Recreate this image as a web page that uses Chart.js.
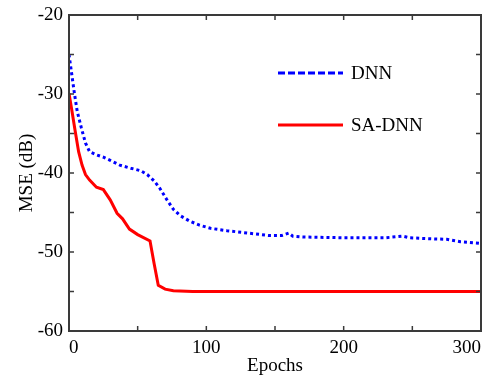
<!DOCTYPE html>
<html lang="en">
<head>
    <meta charset="UTF-8">
    <title>MSE vs Epochs</title>
    <style>
        html, body {
            margin: 0;
            padding: 0;
            background: #ffffff;
        }
        .chart-box {
            width: 492px;
            height: 379px;
        }
    </style>
    <script src="https://cdn.jsdelivr.net/npm/chart.js@4.4.1/dist/chart.umd.min.js"></script>
</head>
<body>
    <div class="chart-box">
        <canvas id="mse-chart" width="492" height="379"></canvas>
    </div>

    <script>
    // values
    const dnnEpochs = [0, 2, 4, 6, 9, 12, 15, 20, 25, 30, 37, 45, 52, 57, 62, 66, 71, 76, 81, 88, 95, 103, 115, 130, 145, 155, 160, 163, 170, 200, 230, 243, 248, 260, 275, 285, 300];
    const dnnMse    = [-25.0, -27.5, -30.0, -32.2, -34.3, -36.2, -37.3, -37.7, -38.0, -38.4, -39.0, -39.4, -39.7, -40.2, -41.0, -41.9, -43.3, -44.6, -45.4, -46.1, -46.6, -47.0, -47.3, -47.6, -47.9, -47.9, -47.6, -48.0, -48.1, -48.2, -48.2, -48.0, -48.2, -48.3, -48.4, -48.7, -48.9];

    const saEpochs = [0, 2, 4.4, 7, 9.5, 12, 15, 20, 25, 30, 35, 39, 44, 50, 59, 62, 65, 70, 76, 90, 150, 300];
    const saMse    = [-29.9, -32.0, -34.6, -37.3, -39.0, -40.2, -40.9, -41.8, -42.1, -43.4, -45.1, -45.8, -47.1, -47.8, -48.6, -51.5, -54.2, -54.7, -54.9, -55.0, -55.0, -55.0];

    const seriesNames = ["DNN", "SA-DNN"];
    const xTicks = [0, 100, 200, 300];
    const yTicks = [-60, -50, -40, -30, -20];

    function toPoints(xs, ys) {
        return xs.map((x, i) => ({x: x, y: ys[i]}));
    }

    const FONT = "'Liberation Serif', 'Times New Roman', serif";

    // box, inward ticks on all four sides, and the legend inside the plot
    const framePlugin = {
        id: 'frame',
        afterDraw(chart) {
            const ctx = chart.ctx;
            const a = chart.chartArea;
            const xs = chart.scales.x;
            const ys = chart.scales.y;
            ctx.save();
            ctx.strokeStyle = '#3a3a3a';
            ctx.lineWidth = 1.5;
            ctx.beginPath();
            for (let v = 0; v <= 300; v += 50) {
                const px = xs.getPixelForValue(v);
                ctx.moveTo(px, a.bottom); ctx.lineTo(px, a.bottom - 5);
                ctx.moveTo(px, a.top); ctx.lineTo(px, a.top + 5);
            }
            for (let v = -60; v <= -20; v += 5) {
                const py = ys.getPixelForValue(v);
                ctx.moveTo(a.left, py); ctx.lineTo(a.left + 5, py);
                ctx.moveTo(a.right, py); ctx.lineTo(a.right - 5, py);
            }
            ctx.stroke();
            ctx.lineWidth = 2;
            ctx.strokeRect(a.left, a.top, a.right - a.left, a.bottom - a.top);

            // legend
            const lx = a.left + 209;
            let ly = a.top + 58;
            chart.data.datasets.forEach((ds) => {
                ctx.beginPath();
                ctx.strokeStyle = ds.borderColor;
                ctx.lineWidth = ds.borderWidth;
                ctx.setLineDash(ds.borderDash && ds.borderDash.length ? [7, 3] : []);
                ctx.moveTo(lx, ly);
                ctx.lineTo(lx + 65, ly);
                ctx.stroke();
                ctx.setLineDash([]);
                ctx.fillStyle = '#000000';
                ctx.font = '19px ' + FONT;
                ctx.textBaseline = 'middle';
                ctx.fillText(ds.label, lx + 73, ly + 1);
                ly += 52;
            });
            ctx.restore();
        }
    };

    new Chart("mse-chart", {
        type: "line",
        data: {
            datasets: [
                {
                    label: seriesNames[0],
                    data: toPoints(dnnEpochs, dnnMse),
                    borderColor: "#0000ff",
                    borderWidth: 3,
                    borderDash: [3, 3],
                    pointRadius: 0,
                    fill: false,
                    tension: 0
                },
                {
                    label: seriesNames[1],
                    data: toPoints(saEpochs, saMse),
                    borderColor: "#ff0000",
                    borderWidth: 3,
                    pointRadius: 0,
                    fill: false,
                    tension: 0
                }
            ]
        },
        options: {
            responsive: false,
            animation: false,
            layout: {
                padding: {left: 0, right: 11, top: 15, bottom: 0}
            },
            plugins: {
                legend: {display: false},
                tooltip: {enabled: false}
            },
            scales: {
                x: {
                    type: 'linear',
                    min: 0,
                    max: 300,
                    afterBuildTicks: (s) => { s.ticks = xTicks.map(v => ({value: v})); },
                    afterFit: (s) => { s.height = 48; s.paddingLeft = 0; s.paddingRight = 0; },
                    grid: {display: false, drawTicks: false},
                    border: {display: false},
                    ticks: {
                        padding: 6,
                        align: 'inner',
                        color: '#000000',
                        font: {family: FONT, size: 19},
                        maxRotation: 0
                    },
                    title: {
                        display: true,
                        text: 'Epochs',
                        color: '#000000',
                        font: {family: FONT, size: 19},
                        padding: {top: 0, bottom: 2}
                    }
                },
                y: {
                    min: -60,
                    max: -20,
                    afterBuildTicks: (s) => { s.ticks = yTicks.map(v => ({value: v})); },
                    afterFit: (s) => { s.width = 69; s.paddingTop = 0; s.paddingBottom = 0; },
                    grid: {display: false, drawTicks: false},
                    border: {display: false},
                    ticks: {
                        padding: 6,
                        color: '#000000',
                        font: {family: FONT, size: 19}
                    },
                    title: {
                        display: true,
                        text: 'MSE (dB)',
                        color: '#000000',
                        font: {family: FONT, size: 19},
                        padding: {top: 16, bottom: 0}
                    }
                }
            }
        },
        plugins: [framePlugin]
    });
    </script>
</body>
</html>
